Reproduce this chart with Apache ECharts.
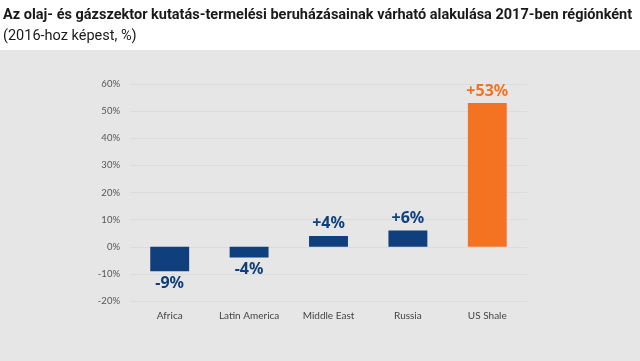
<!DOCTYPE html>
<html><head><meta charset="utf-8">
<script src="https://cdn.jsdelivr.net/npm/echarts@6/dist/echarts.min.js"></script>
<style>html,body{margin:0;padding:0;background:#e6e6e6}#c{width:640px;height:361px}</style>
</head><body><div id="c"></div>
<script>
const categories = ['Africa', 'Latin America', 'Middle East', 'Russia', 'US Shale'];
const values = [-9, -4, 4, 6, 53];
const yTicks = { min: -20, max: 60, interval: 10 };
const titleText = 'Az olaj- és gázszektor kutatás-termelési beruházásainak várható alakulása 2017-ben régiónként';
const subtitleText = '(2016-hoz képest, %)';

const BLUE = '#0f3f7d', ORANGE = '#f47322';
const chart = echarts.init(document.getElementById('c'), null, { renderer: 'canvas' });
chart.setOption({
  backgroundColor: '#e6e6e6',
  animation: false,
  graphic: [
    { type: 'rect', left: 0, top: 0, shape: { width: 640, height: 50 }, style: { fill: '#ffffff' }, z: -1 },
    { type: 'text', left: 3, top: 8, style: { text: titleText, font: 'bold 14.5px "Liberation Sans Narrow", "Roboto", sans-serif', fill: '#1a1a1a' } },
    { type: 'text', left: 3, top: 29, style: { text: subtitleText, font: '14.5px "Liberation Sans Narrow", "Roboto", sans-serif', fill: '#1a1a1a' } }
  ],
  grid: { left: 130, right: 113, top: 84, bottom: 60 },
  xAxis: {
    type: 'category', data: categories,
    axisLine: { show: false }, axisTick: { show: false },
    axisLabel: { color: '#444', fontSize: 10, fontFamily: 'Lato, "Noto Sans", sans-serif', margin: 10 }
  },
  yAxis: {
    type: 'value', min: yTicks.min, max: yTicks.max, interval: yTicks.interval,
    axisLine: { show: false }, axisTick: { show: false },
    axisLabel: { color: '#555', fontSize: 9.5, fontFamily: 'Lato, "Noto Sans", sans-serif', margin: 10, formatter: v => v + '%' },
    splitLine: { lineStyle: { color: '#dcdcdc', width: 1 } }
  },
  series: [{
    type: 'bar', barWidth: '49%',
    data: values.map((v, i) => ({
      value: v,
      itemStyle: { color: i === values.length - 1 ? ORANGE : BLUE },
      label: {
        show: true, position: v >= 0 ? 'top' : 'bottom', distance: 4,
        color: i === values.length - 1 ? ORANGE : BLUE,
        fontSize: 16, fontWeight: 'bold', fontFamily: '"Noto Sans", Lato, sans-serif',
        formatter: () => (v > 0 ? '+' : '') + v + '%'
      }
    }))
  }]
});
</script></body></html>
